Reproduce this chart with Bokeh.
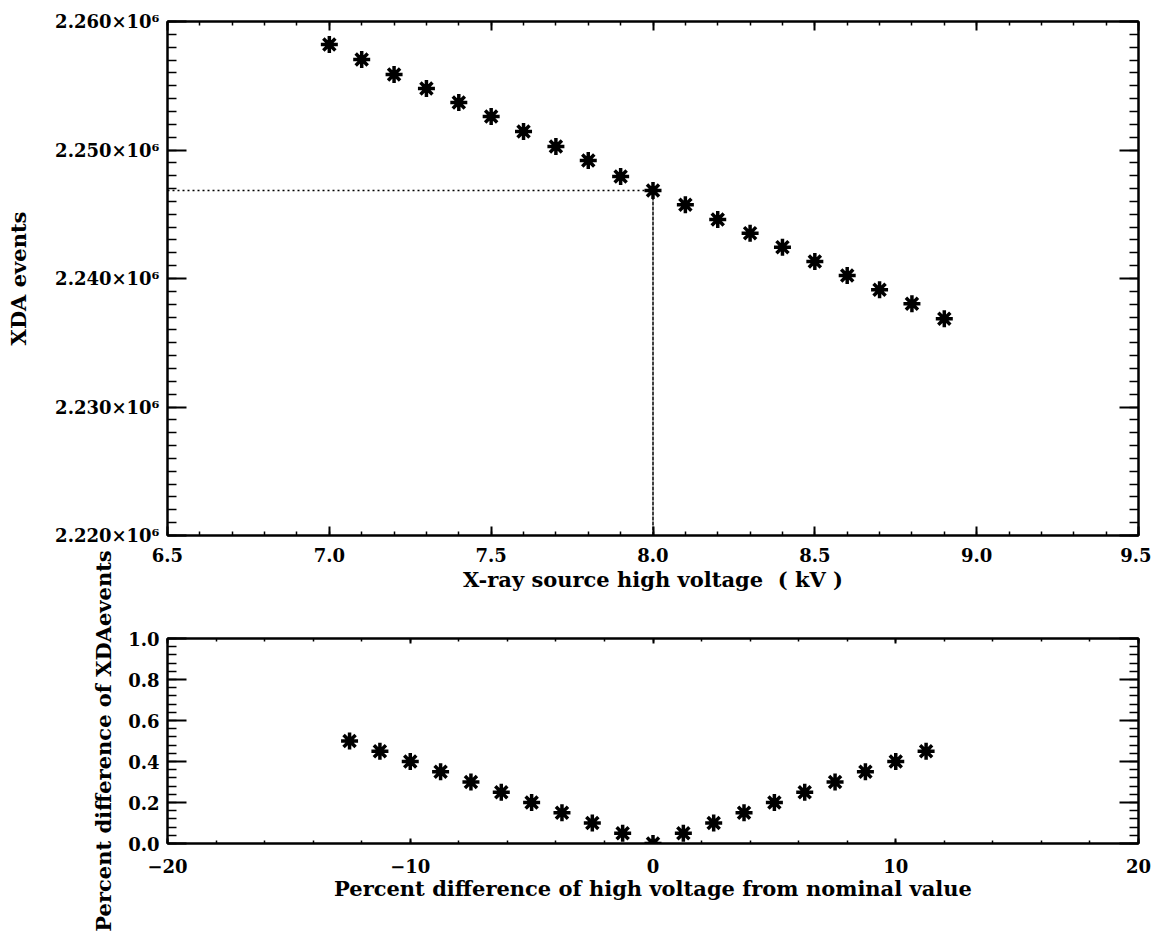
from bokeh.plotting import figure
from bokeh.layouts import column
from bokeh.models import (Range1d, SingleIntervalTicker, LinearAxis,
                          CustomJSTickFormatter)
from bokeh.embed import file_html
from bokeh.resources import INLINE

# ---------------- data ----------------
voltage_kv = [7.0, 7.1, 7.2, 7.3, 7.4, 7.5, 7.6, 7.7, 7.8, 7.9,
              8.0, 8.1, 8.2, 8.3, 8.4, 8.5, 8.6, 8.7, 8.8, 8.9]
xda_events = [2258210, 2257040, 2255880, 2254790, 2253700, 2252610, 2251440,
              2250270, 2249180, 2247940, 2246850, 2245740, 2244590, 2243530,
              2242440, 2241320, 2240230, 2239120, 2238030, 2236860]
nominal_kv = 8.0

pct_hv = [-12.5, -11.25, -10.0, -8.75, -7.5, -6.25, -5.0, -3.75, -2.5, -1.25,
          0.0, 1.25, 2.5, 3.75, 5.0, 6.25, 7.5, 8.75, 10.0, 11.25]
pct_xda = [0.50, 0.45, 0.40, 0.35, 0.30, 0.25, 0.20, 0.15, 0.10, 0.05,
           0.00, 0.05, 0.10, 0.15, 0.20, 0.25, 0.30, 0.35, 0.40, 0.45]

FONT = "DejaVu Serif"
FS = "18px"
LFS = "21px"

blank_fmt = CustomJSTickFormatter(code="return '';")


def style_axis(ax, ticker, maj_in, min_in, formatter=None, labels=True):
    ax.ticker = ticker
    ax.major_tick_in = maj_in
    ax.major_tick_out = 0
    ax.minor_tick_in = min_in
    ax.minor_tick_out = 0
    ax.axis_line_width = 2
    ax.axis_line_color = "black"
    ax.major_tick_line_width = 2
    ax.minor_tick_line_width = 1.5
    ax.major_tick_line_color = "black"
    ax.minor_tick_line_color = "black"
    ax.major_label_text_font = FONT
    ax.major_label_text_font_style = "bold"
    ax.major_label_text_color = "black"
    ax.axis_label_text_font = FONT
    ax.axis_label_text_font_style = "bold"
    ax.axis_label_text_font_size = LFS
    ax.axis_label_text_color = "black"
    if labels:
        ax.formatter = formatter
        ax.major_label_text_font_size = FS
    else:
        ax.formatter = blank_fmt
        ax.major_label_text_font_size = "1px"
        ax.major_label_standoff = 0


# ---------------- top plot ----------------
p1 = figure(width=1151, height=600, output_backend="svg", toolbar_location=None,
            x_range=Range1d(6.5, 9.5), y_range=Range1d(2.22e6, 2.26e6),
            min_border_left=167, min_border_right=13, min_border_top=21,
            min_border_bottom=65)
p1.grid.visible = False
p1.outline_line_color = "black"
p1.outline_line_width = 2

y_fmt = CustomJSTickFormatter(code="return (tick/1e6).toFixed(3) + '\u00d710\u2076';")
x_fmt = CustomJSTickFormatter(code="return tick.toFixed(1);")

style_axis(p1.xaxis[0], SingleIntervalTicker(interval=0.5, num_minor_ticks=5), 9, 4, x_fmt)
style_axis(p1.yaxis[0], SingleIntervalTicker(interval=10000, num_minor_ticks=10), 19, 9, y_fmt)
p1.xaxis[0].axis_label = "X-ray source high voltage \u00a0( kV )"
p1.xaxis[0].major_label_standoff = 12
p1.xaxis[0].axis_label_standoff = 2
p1.yaxis[0].axis_label = "XDA events"
p1.yaxis[0].major_label_standoff = 8
p1.yaxis[0].axis_label_standoff = 21

ax_top = LinearAxis()
style_axis(ax_top, SingleIntervalTicker(interval=0.5, num_minor_ticks=5), 9, 4, labels=False)
p1.add_layout(ax_top, "above")
ax_right = LinearAxis()
style_axis(ax_right, SingleIntervalTicker(interval=10000, num_minor_ticks=10), 19, 9, labels=False)
p1.add_layout(ax_right, "right")

i_nom = voltage_kv.index(nominal_kv)
y_nom = xda_events[i_nom]
p1.line([p1.x_range.start, nominal_kv], [y_nom, y_nom], line_color="black",
        line_width=1.5, line_dash="2 3")
p1.line([nominal_kv, nominal_kv], [p1.y_range.start, y_nom], line_color="black",
        line_width=1.5, line_dash="4 1")
p1.scatter(voltage_kv, xda_events, marker="asterisk", size=17, line_width=3.5,
           line_color="black")

# ---------------- bottom plot ----------------
p2 = figure(width=1151, height=387, output_backend="svg", toolbar_location=None,
            x_range=Range1d(-20, 20), y_range=Range1d(0.0, 1.0),
            min_border_left=167, min_border_right=13, min_border_top=93,
            min_border_bottom=89, margin=(-55, 0, 0, 0))
p2.border_fill_color = None
p2.grid.visible = False
p2.outline_line_color = "black"
p2.outline_line_width = 2

px_fmt = CustomJSTickFormatter(code="return tick < 0 ? '\u2212' + Math.abs(tick) : String(tick);")
py_fmt = CustomJSTickFormatter(code="return tick.toFixed(1);")
style_axis(p2.xaxis[0], SingleIntervalTicker(interval=10, num_minor_ticks=5), 5, 3, px_fmt)
style_axis(p2.yaxis[0], SingleIntervalTicker(interval=0.2, num_minor_ticks=5), 19, 9, py_fmt)
p2.xaxis[0].axis_label = "Percent difference of high voltage from nominal value"
p2.xaxis[0].major_label_standoff = 15
p2.xaxis[0].axis_label_standoff = 0
p2.yaxis[0].axis_label = "Percent difference of XDAevents"
p2.yaxis[0].major_label_standoff = 8
p2.yaxis[0].axis_label_standoff = 9

ax2_top = LinearAxis()
style_axis(ax2_top, SingleIntervalTicker(interval=10, num_minor_ticks=5), 5, 3, labels=False)
p2.add_layout(ax2_top, "above")
ax2_right = LinearAxis()
style_axis(ax2_right, SingleIntervalTicker(interval=0.2, num_minor_ticks=5), 19, 9, labels=False)
p2.add_layout(ax2_right, "right")

p2.scatter(pct_hv, pct_xda, marker="asterisk", size=17, line_width=3.5,
           line_color="black")

layout = column(p1, p2, spacing=0)
open("out.html", "w").write(file_html(layout, INLINE))
